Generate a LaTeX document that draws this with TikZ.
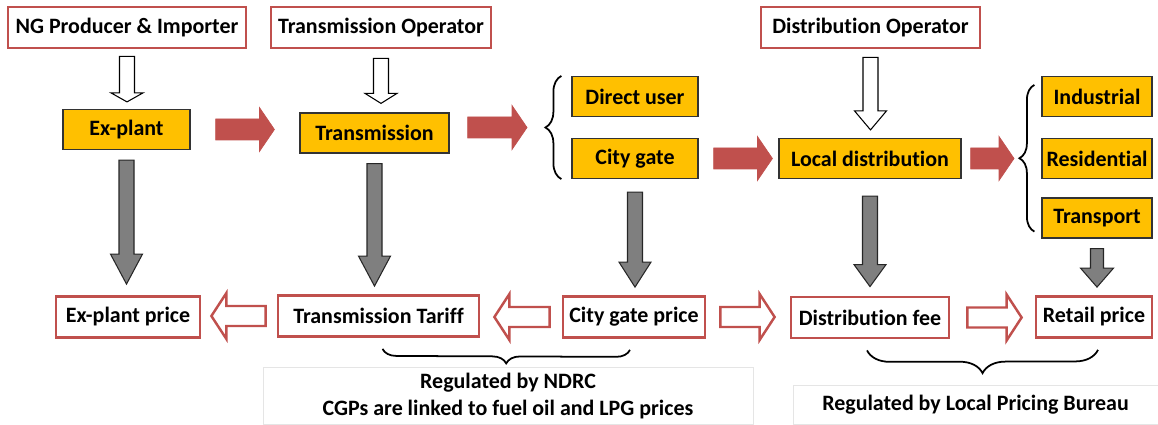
\documentclass[tikz,border=0pt]{standalone}
\usepackage{fontspec}
\setmainfont{Carlito}[Ligatures=NoCommon]
\usepackage{tikz}
\usetikzlibrary{calc}
\usetikzlibrary{decorations.pathreplacing}
\definecolor{ngred}{HTML}{C0504D}
\definecolor{nggold}{HTML}{FFC000}
\definecolor{nggray}{HTML}{7F7F7F}
\def\pxs{*0.569055pt}
\tikzset{
every picture/.style={line width=0.8pt},
every node/.style={font=\fontsize{12.5}{15.5}\selectfont\bfseries, inner sep=0pt},
%%%%%%%%%%  Node styles
ownerbox/.style={draw=ngred, line width=1.6pt, fill=white, minimum height=0.82cm},
stagebox/.style={draw=black!80, line width=0.7pt, fill=nggold, minimum height=0.8cm},
pricebox/.style={draw=ngred, line width=1.6pt, fill=white, minimum height=0.82cm},
notebox/.style={draw=black!10, line width=0.5pt, align=center},
%%%%%%% block arrows, sizes in px
ba shaft/.store in=\bashaft, ba shaft=7.5,
ba head/.store in=\bahead, ba head=16,
ba len/.store in=\balen, ba len=15,
ba gap/.store in=\bagap, ba gap=8,
ba endgap/.store in=\baendgap, ba endgap=8,
blockarrow/.style={to path={
    let \p1=(\tikztostart), \p2=(\tikztotarget),
        \n1={atan2(\y2-\y1,\x2-\x1)},
        \n2={veclen(\x2-\x1,\y2-\y1)}
    in {[shift={(\p1)}, rotate=\n1]
      ({\bagap\pxs},{-\bashaft\pxs}) -- ({\n2-(\baendgap+\balen)\pxs},{-\bashaft\pxs})
      -- ({\n2-(\baendgap+\balen)\pxs},{-\bahead\pxs}) -- ({\n2-\baendgap\pxs},0pt)
      -- ({\n2-(\baendgap+\balen)\pxs},{\bahead\pxs}) -- ({\n2-(\baendgap+\balen)\pxs},{\bashaft\pxs})
      -- ({\bagap\pxs},{\bashaft\pxs}) -- cycle}
  }},
whitearrow/.style={blockarrow, draw=black, fill=white, line width=0.6pt},
grayarrow/.style={blockarrow, draw=black!85, fill=nggray, line width=0.6pt, ba len=30},
redarrow/.style={blockarrow, draw=ngred, fill=ngred, line width=0.4pt, ba shaft=10.5, ba head=22},
pricearrow/.style={blockarrow, draw=ngred, fill=white, line width=1.4pt, ba shaft=10, ba head=23},
%%%%%%% braces
bracket/.style={decorate, decoration={brace, amplitude=#1}, line width=1pt},
bracket/.default=15
}

\begin{document}
\begin{tikzpicture}[x=0.02cm, y=-0.02cm]
\useasboundingbox (0,0) rectangle (1158,425);
%% operators
\node[ownerbox, minimum width=4.76cm] (prod) at (127,27.5) {NG Producer \& Importer};
\node[ownerbox, minimum width=4.4cm] (tso) at (381,27.5) {Transmission Operator};
\node[ownerbox, minimum width=4.38cm] (dso) at (870.5,27.5) {Distribution Operator};
%% chain stages
\node[stagebox, minimum width=2.54cm] (explant) at (126.5,129.5) {Ex-plant};
\node[stagebox, minimum width=2.98cm] (trans) at (374.5,133) {Transmission};
\node[stagebox, minimum width=2.52cm] (direct) at (635,96.5) {Direct user};
\node[stagebox, minimum width=2.52cm] (citygate) at (635,158.5) {City gate};
\node[stagebox, minimum width=3.64cm] (local) at (870,158.5) {Local distribution};
\node[stagebox, minimum width=2.2cm] (industrial) at (1097,96.5) {Industrial};
\node[stagebox, minimum width=2.2cm] (residential) at (1097,158.5) {Residential};
\node[stagebox, minimum width=2.2cm] (transport) at (1097,218) {Transport};
%% prices
\node[pricebox, minimum width=2.88cm] (pexplant) at (128,317) {Ex-plant price};
\node[pricebox, minimum width=4.02cm] (ptariff) at (378.5,316) {Transmission Tariff};
\node[pricebox, minimum width=2.84cm] (pcity) at (634,317) {City gate price};
\node[pricebox, minimum width=3.16cm] (pdist) at (870,317.5) {Distribution fee};
\node[pricebox, minimum width=2.32cm] (pretail) at (1094,317) {Retail price};
%% notes
\node[notebox, minimum width=9.8cm, minimum height=1.14cm] (ndrc) at (508,396)
	{Regulated by NDRC\\CGPs are linked to fuel oil and LPG prices};
\node[notebox, minimum width=7.3cm, minimum height=0.78cm] (bureau) at (975.5,405)
	{Regulated by Local Pricing Bureau};
%% braces
\coordinate (usersbrace) at (546,127.5);
\coordinate (endbrace) at (1020,158.5);
\draw[bracket=0.32cm] ($(citygate.south west)+(-10,0)$) -- ($(direct.north west)+(-10,0)$);
\draw[bracket=0.3cm] ($(transport.south west)+(-7,-7)$) -- ($(industrial.north west)+(-7,9)$);
\draw[bracket=0.28cm] ($(pcity.south)+(-4,11)$) -- ($(ptariff.south)+(4,11)$);
\draw[bracket=0.46cm] ($(pretail.south)+(4,11)$) -- ($(pdist.south)+(-3,11)$);
%% operator arrows
\draw[whitearrow, ba len=9, ba gap=7, ba endgap=7] (prod.south) to (prod.south |- explant.north);
\draw[whitearrow, ba len=10, ba gap=9, ba endgap=9] (tso.south) to (tso.south |- trans.north);
\draw[whitearrow, ba len=19] (dso.south) to (dso.south |- local.north);
%% gas flow
\draw[redarrow, ba gap=25, ba endgap=25] (explant.east) to (explant.east -| trans.west);
\draw[redarrow, ba gap=18, ba endgap=19] (trans.east |- usersbrace) to (usersbrace);
\draw[redarrow, ba gap=15, ba endgap=6] (citygate.east) to (local.west);
\draw[redarrow, ba gap=9, ba endgap=6] (local.east) to (endbrace);
%% stage to price
\draw[grayarrow, ba gap=10, ba endgap=11] (explant.south) to (explant.south |- pexplant.north);
\draw[grayarrow, ba gap=10, ba endgap=8] (trans.south) to (trans.south |- ptariff.north);
\draw[grayarrow, ba gap=13, ba endgap=8, ba len=25] (citygate.south) to (citygate.south |- pcity.north);
\draw[grayarrow, ba gap=17, ba endgap=9, ba len=22] (local.south) to (local.south |- pdist.north);
\draw[grayarrow, ba gap=10, ba endgap=8, ba len=19, ba shaft=6.5, ba head=16.5] (transport.south) to (transport.south |- pretail.north);
%% price links
\draw[pricearrow, ba gap=11, ba endgap=10] (ptariff.west) to (ptariff.west -| pexplant.east);
\draw[pricearrow, ba gap=12, ba endgap=14] (pcity.west) to (pcity.west -| ptariff.east);
\draw[pricearrow, ba gap=14, ba endgap=15] (pcity.east) to (pcity.east -| pdist.west);
\draw[pricearrow, ba gap=17, ba endgap=13] (pdist.east) to (pdist.east -| pretail.west);
\end{tikzpicture}
\end{document}
